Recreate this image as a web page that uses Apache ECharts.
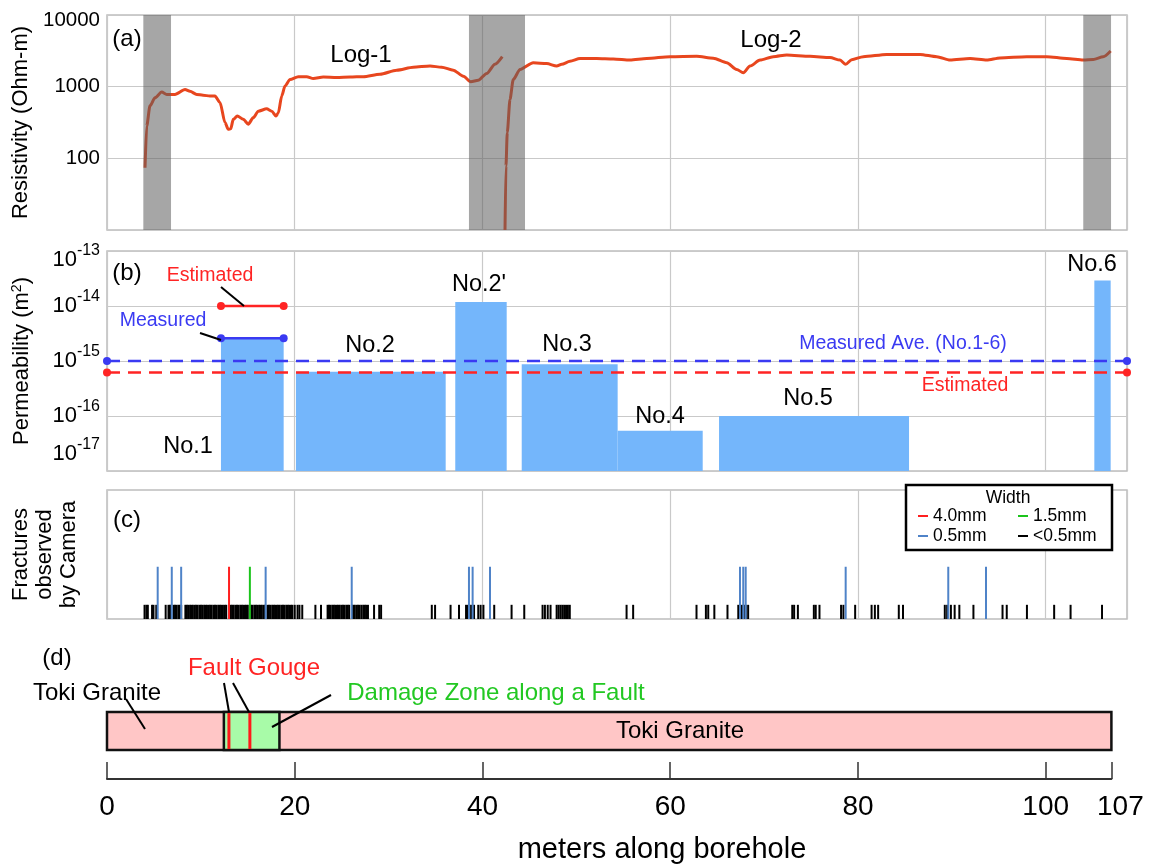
<!DOCTYPE html>
<html><head><meta charset="utf-8">
<script src="https://cdn.jsdelivr.net/npm/echarts@6/dist/echarts.min.js"></script>
<style>html,body{margin:0;padding:0;background:#fff}#c{width:1153px;height:864px}</style>
</head><body><div id="c"></div>
<script>
// ---------------- DATA ----------------
const log1Depth = [4.05,4.23,4.58,5.11,5.83,6.36,7.24,8.31,8.84,9.56,10.23,10.97,11.5,12.04,12.57,12.92,13.18,13.45,13.88,14.52,15.05,15.59,16.12,17.01,17.55,18.0,18.25,18.61,18.96,19.5,20.38,21.27,21.98,23.04,24.47,25.89,27.3,29.08,30.86,32.63,34.41,35.66,36.89,37.96,38.75,39.55,40.45,41.33,42.11];
const log1Res   = [74,282,540,700,840,780,780,910,860,780,760,740,740,600,315,254,258,350,390,350,300,370,455,490,455,390,430,740,1020,1260,1380,1380,1300,1360,1340,1360,1380,1490,1700,1870,1940,1870,1700,1400,1170,1230,1530,2050,2620];
const log2Depth = [42.4,42.5,42.64,42.93,43.28,44.0,45.41,46.84,47.91,48.44,49.32,50.39,52.17,53.94,55.72,57.5,59.98,62.82,64.59,66.02,67.08,67.79,68.5,69.57,70.98,72.41,74.89,77.02,78.09,78.69,79.33,80.57,83.06,86.61,88.39,89.81,91.94,93.72,95.13,97.98,100.11,102.24,104.0,105.07,106.13,106.92];
const log2Res   = [10,78,228,665,1260,1740,2160,2100,1940,2050,2260,2470,2470,2430,2350,2470,2620,2650,2500,2160,1740,1560,1940,2350,2620,2770,2650,2550,2350,2050,2380,2620,2820,2820,2620,2350,2470,2350,2520,2620,2620,2470,2350,2400,2620,3150];
const gapStart = [3.87, 38.56, 104.0];
const gapEnd   = [6.82, 44.53, 106.96];

const testNames = ['No.1','No.2',"No.2'",'No.3','No.4','No.5','No.6'];
const testStart = [12.14, 20.13, 37.1, 44.18, 54.4, 65.2, 105.18];
const testEnd   = [18.82, 36.08, 42.58, 54.4, 63.46, 85.44, 106.92];
const testPerm  = [2.6e-15, 6.4e-16, 1.18e-14, 8.7e-16, 5.4e-17, 1.0e-16, 2.9e-14];
const no1Estimated = 1.0e-14;
const aveMeasured  = 1.0e-15;
const aveEstimated = 6.2e-16;

const fracBlack = [4.0,4.2,4.35,4.8,4.95,5.25,6.25,6.55,6.7,6.85,7.1,7.25,7.4,7.6,7.75,7.9,8.35,8.5,8.65,8.85,9.0,9.15,9.35,9.5,9.65,9.85,10.0,10.15,10.35,10.5,10.65,10.85,11.0,11.15,11.35,11.5,11.65,11.85,12.0,12.15,12.35,12.55,12.7,13.2,13.35,13.5,13.7,13.85,14.0,14.2,14.35,14.5,14.7,14.85,15.0,15.35,15.5,15.7,15.85,16.0,16.2,16.35,16.5,16.7,16.85,17.1,17.25,17.4,17.6,17.75,17.9,18.1,18.25,18.4,18.6,18.75,18.9,19.1,19.25,19.4,19.6,19.75,20.0,20.3,20.5,20.8,22.2,22.8,23.5,23.65,23.8,24.0,24.15,24.3,24.5,24.65,24.8,25.0,25.15,25.3,25.5,25.65,25.8,26.1,26.25,26.4,26.6,26.75,26.9,27.1,27.3,27.45,27.6,27.8,28.45,29.0,29.2,34.6,34.95,36.6,37.5,38.25,38.45,38.65,38.85,39.1,39.55,39.8,40.1,41.25,43.1,44.45,46.4,46.65,46.95,47.25,47.9,48.1,48.3,48.5,48.7,48.9,49.1,49.3,55.35,56.05,62.8,63.8,64.05,64.7,66.1,67.25,67.45,67.65,67.85,68.05,68.3,73.0,73.2,73.6,75.3,75.5,75.9,78.2,78.45,79.7,81.45,81.8,82.15,84.35,84.8,89.25,89.5,89.9,90.3,90.8,92.3,95.4,95.85,98.0,100.9,102.65,106.0];
const fracBlue  = [5.4, 6.9, 7.9, 16.9, 26.07, 38.56, 38.95, 40.8, 67.43, 67.78, 68.04, 78.69, 89.62, 93.64];
const fracRed   = [13.0];
const fracGreen = [15.22];

const boreholeEnd = 107;
const damageZone = [12.45, 18.37];
const gougeAt = [12.99, 15.22];

// ---------------- STYLE ----------------
const FONT = '"Liberation Sans", Arial, sans-serif';
const XMAX = 108.66;
const RED = '#ff2424', BLUE = '#3a3af2', GREEN = '#22c822';
const GRID_BORDER = '#bdbdbd', SPLIT = '#c9c9c9';

const chart = echarts.init(document.getElementById('c'), null, {renderer: 'canvas'});

const topX = (gi) => ({
  gridIndex: gi, type: 'value', min: 0, max: XMAX, interval: 20,
  axisLine: {show: false}, axisTick: {show: false}, axisLabel: {show: false},
  splitLine: {show: true, lineStyle: {color: SPLIT, width: 1.2}}
});

const bS = {fontSize: 22, fontFamily: FONT, color: '#000'};
const sS = {fontSize: 16, fontFamily: FONT, color: '#000'};

function T(text, x, y, size, color, align) {
  return {type: 'text', x: x, y: y, z: 100, style: {text: text, fontSize: size, fontFamily: FONT, fill: color || '#000',
    textAlign: align || 'center', textVerticalAlign: 'middle', verticalAlign: 'middle'}};
}
function L(x1, y1, x2, y2, color, w) {
  return {type: 'line', z: 100, shape: {x1: x1, y1: y1, x2: x2, y2: y2}, style: {stroke: color || '#000', lineWidth: w || 2}};
}

function tickSeries(data, color, h) {
  return {
    type: 'custom', xAxisIndex: 2, yAxisIndex: 2, z: 3,
    data: data.map(v => [v, 0]),
    renderItem: function (params, api) {
      const p0 = api.coord([api.value(0), 0]);
      const p1 = api.coord([api.value(0), h]);
      return {type: 'line', shape: {x1: p0[0], y1: p0[1], x2: p1[0], y2: p1[1]}, style: {stroke: color, lineWidth: 2}};
    }
  };
}

const gridBase = {left: 107, width: 1020, show: true, borderColor: GRID_BORDER, borderWidth: 1.5,
  backgroundColor: 'transparent', containLabel: false, outerBoundsMode: 'none'};

const option = {
  animation: false,
  backgroundColor: '#fff',
  grid: [
    Object.assign({}, gridBase, {top: 15, height: 215}),
    Object.assign({}, gridBase, {top: 251, height: 220}),
    Object.assign({}, gridBase, {top: 490, height: 129}),
    {left: 107, top: 712, width: 1004.4, height: 67, show: false, containLabel: false, outerBoundsMode: 'none'}
  ],
  xAxis: [
    topX(0), topX(1), topX(2),
    {gridIndex: 3, type: 'value', min: 0, max: boreholeEnd, interval: 20,
      axisLine: {show: true, lineStyle: {color: '#333', width: 2}},
      axisTick: {show: true, inside: true, length: 17, lineStyle: {color: '#333', width: 1.5}},
      axisLabel: {show: true, fontSize: 28, fontFamily: FONT, color: '#000', margin: 14, showMaxLabel: true, showMinLabel: true,
        formatter: function (v) { return v === boreholeEnd ? '{m|' + v + '}' : String(v); },
        rich: {m: {fontSize: 28, fontFamily: FONT, color: '#000', padding: [0, 0, 0, 18]}}},
      splitLine: {show: false}}
  ],
  yAxis: [
    {gridIndex: 0, type: 'log', logBase: 10, min: 10, max: 10000,
      axisLine: {show: false}, axisTick: {show: false},
      axisLabel: {fontSize: 20.5, fontFamily: FONT, color: '#000', margin: 7,
        formatter: function (v) {
          if (v <= 10.5) return '';
          if (v >= 9999) return '{t|' + Math.round(v) + '}';
          return String(Math.round(v));
        },
        rich: {t: {fontSize: 20.5, fontFamily: FONT, color: '#000', padding: [10, 0, 0, 0]}}},
      splitLine: {show: true, lineStyle: {color: SPLIT, width: 1.2}},
      name: 'Resistivity (Ohm-m)', nameLocation: 'middle', nameGap: 73,
      nameTextStyle: {fontSize: 22, fontFamily: FONT, color: '#000'}},
    {gridIndex: 1, type: 'log', logBase: 10, min: 1e-17, max: 1e-13,
      axisLine: {show: false}, axisTick: {show: false},
      axisLabel: {margin: 7, color: '#000',
        formatter: function (v) {
          const e = Math.round(Math.log10(v));
          if (e === -17) return '{bl|10}{sl|' + e + '}';
          if (e === -13) return '{bt|10}{st|' + e + '}';
          return '{b|10}{s|' + e + '}';
        },
        rich: {
          b: bS, s: Object.assign({}, sS, {padding: [0, 0, 19, 0]}),
          bl: Object.assign({}, bS, {padding: [0, 0, 34, 0]}), sl: Object.assign({}, sS, {padding: [0, 0, 53, 0]}),
          bt: Object.assign({}, bS, {padding: [18, 0, 0, 0]}), st: Object.assign({}, sS, {padding: [0, 0, 0, 0]})
        }},
      splitLine: {show: true, lineStyle: {color: SPLIT, width: 1.2}},
      name: 'Permeability (m{sup|2})', nameLocation: 'middle', nameGap: 73,
      nameTextStyle: {fontSize: 22, fontFamily: FONT, color: '#000',
        rich: {sup: {fontSize: 14, fontFamily: FONT, color: '#000', padding: [0, 0, 10, 0]}}}},
    {gridIndex: 2, type: 'value', min: 0, max: 10,
      axisLine: {show: false}, axisTick: {show: false}, axisLabel: {show: false}, splitLine: {show: false},
      name: 'Fractures\nobserved\nby Camera', nameLocation: 'middle', nameGap: 26,
      nameTextStyle: {fontSize: 22, fontFamily: FONT, color: '#000', lineHeight: 24}},
    {gridIndex: 3, type: 'value', min: 0, max: 10, show: false}
  ],
  series: [
    {name: 'Log-1', type: 'line', xAxisIndex: 0, yAxisIndex: 0, z: 2,
      data: log1Depth.map((d, i) => [d, log1Res[i]]), showSymbol: false, smooth: 0.25, smoothMonotone: 'x',
      lineStyle: {color: '#e8461e', width: 3}},
    {name: 'Log-2', type: 'line', xAxisIndex: 0, yAxisIndex: 0, z: 2,
      data: log2Depth.map((d, i) => [d, log2Res[i]]), showSymbol: false, smooth: 0.25, smoothMonotone: 'x',
      lineStyle: {color: '#e8461e', width: 3}},
    {name: 'gaps', type: 'custom', xAxisIndex: 0, yAxisIndex: 0, z: 5,
      data: gapStart.map((s, i) => [s, gapEnd[i]]),
      renderItem: function (params, api) {
        const p0 = api.coord([api.value(0), 10000]);
        const p1 = api.coord([api.value(1), 10]);
        return {type: 'rect', shape: {x: p0[0], y: p0[1], width: p1[0] - p0[0], height: p1[1] - p0[1]},
          style: {fill: 'rgba(92,92,92,0.55)'}};
      }},
    {name: 'tests', type: 'custom', xAxisIndex: 1, yAxisIndex: 1, z: 2,
      encode: {x: [0, 1], y: 2},
      data: testStart.map((s, i) => [s, testEnd[i], testPerm[i]]),
      renderItem: function (params, api) {
        const p0 = api.coord([api.value(0), api.value(2)]);
        const p1 = api.coord([api.value(1), 1e-17]);
        return {type: 'rect', shape: {x: p0[0], y: p0[1], width: p1[0] - p0[0], height: p1[1] - p0[1]},
          style: {fill: '#74b6fb'}};
      }},
    {name: 'Measured Ave.', type: 'line', xAxisIndex: 1, yAxisIndex: 1, z: 4, clip: false,
      data: [[0, aveMeasured], [XMAX, aveMeasured]], symbol: 'circle', symbolSize: 8,
      itemStyle: {color: BLUE}, lineStyle: {color: BLUE, width: 2.5, type: [13, 8]}},
    {name: 'Estimated Ave.', type: 'line', xAxisIndex: 1, yAxisIndex: 1, z: 4, clip: false,
      data: [[0, aveEstimated], [XMAX, aveEstimated]], symbol: 'circle', symbolSize: 8,
      itemStyle: {color: RED}, lineStyle: {color: RED, width: 2.5, type: [13, 8]}},
    {name: 'No.1 Estimated', type: 'line', xAxisIndex: 1, yAxisIndex: 1, z: 4,
      data: [[testStart[0], no1Estimated], [testEnd[0], no1Estimated]], symbol: 'circle', symbolSize: 8,
      itemStyle: {color: RED}, lineStyle: {color: RED, width: 2.5}},
    {name: 'No.1 Measured', type: 'line', xAxisIndex: 1, yAxisIndex: 1, z: 4,
      data: [[testStart[0], testPerm[0]], [testEnd[0], testPerm[0]]], symbol: 'circle', symbolSize: 8,
      itemStyle: {color: BLUE}, lineStyle: {color: BLUE, width: 2.5}},
    tickSeries(fracBlack, '#000', 1.1),
    tickSeries(fracBlue, '#4f83c8', 4.05),
    tickSeries(fracRed, '#ff1f1f', 4.05),
    tickSeries(fracGreen, '#1cc41c', 4.05),
    {name: 'granite', type: 'custom', xAxisIndex: 3, yAxisIndex: 3, z: 2,
      data: [[0, boreholeEnd]],
      renderItem: function (params, api) {
        const cs = params.coordSys;
        const a = api.coord([api.value(0), 0])[0], b = api.coord([api.value(1), 0])[0];
        return {type: 'rect', shape: {x: a, y: cs.y, width: b - a, height: 38},
          style: {fill: '#ffc6c6', stroke: '#111', lineWidth: 2.5}};
      }},
    {name: 'damage', type: 'custom', xAxisIndex: 3, yAxisIndex: 3, z: 3,
      data: [[damageZone[0], damageZone[1]]],
      renderItem: function (params, api) {
        const cs = params.coordSys;
        const a = api.coord([api.value(0), 0])[0], b = api.coord([api.value(1), 0])[0];
        return {type: 'rect', shape: {x: a, y: cs.y, width: b - a, height: 38},
          style: {fill: '#a8fba8', stroke: '#111', lineWidth: 2.5}};
      }},
    {name: 'gouge', type: 'custom', xAxisIndex: 3, yAxisIndex: 3, z: 4,
      data: gougeAt.map(v => [v, 0]),
      renderItem: function (params, api) {
        const cs = params.coordSys;
        const a = api.coord([api.value(0), 0])[0];
        return {type: 'line', shape: {x1: a, y1: cs.y + 1, x2: a, y2: cs.y + 37},
          style: {stroke: '#ff1a1a', lineWidth: 3}};
      }}
  ],
  graphic: [
    T('(a)', 127, 39, 24),
    T('Log-1', 361, 55, 24),
    T('Log-2', 771, 40, 24),
    T('(b)', 127, 273, 24),
    T('Estimated', 210, 276, 19.5, RED),
    L(221, 287, 244, 306),
    T('Measured', 163, 321, 19.5, BLUE),
    L(200, 333, 221, 340),
    T(testNames[0], 188, 447, 23.5),
    T(testNames[1], 370, 346, 23.5),
    T(testNames[2], 479, 285, 23.5),
    T(testNames[3], 567, 345, 23.5),
    T(testNames[4], 660, 417, 23.5),
    T(testNames[5], 808, 399, 23.5),
    T(testNames[6], 1092, 265, 23.5),
    T('Measured Ave. (No.1-6)', 903, 344, 19.5, BLUE),
    T('Estimated', 965, 386, 19.5, RED),
    T('(c)', 127, 520, 24),
    {type: 'rect', z: 100, shape: {x: 906, y: 485, width: 206, height: 65}, style: {fill: '#fff', stroke: '#000', lineWidth: 2.5}},
    T('Width', 1008, 498, 17.5),
    L(918, 516, 928, 516, '#ff1f1f', 2), T('4.0mm', 933, 516, 17.5, '#000', 'left'),
    L(1018, 516, 1028, 516, '#1cc41c', 2), T('1.5mm', 1033, 516, 17.5, '#000', 'left'),
    L(918, 536, 928, 536, '#4f83c8', 2), T('0.5mm', 933, 536, 17.5, '#000', 'left'),
    L(1018, 536, 1028, 536, '#000', 2), T('<0.5mm', 1033, 536, 17.5, '#000', 'left'),
    T('(d)', 57, 658, 24),
    T('Fault Gouge', 254, 668, 24, RED),
    T('Toki Granite', 97, 693, 24),
    T('Damage Zone along a Fault', 496, 693, 24, GREEN),
    L(126, 699, 145, 729),
    L(224, 683, 229, 712), L(233, 683, 249, 712),
    L(331, 695, 272, 727),
    T('Toki Granite', 680, 731, 24),
    T('meters along borehole', 662, 850, 29)
  ]
};
chart.setOption(option);
</script></body></html>
